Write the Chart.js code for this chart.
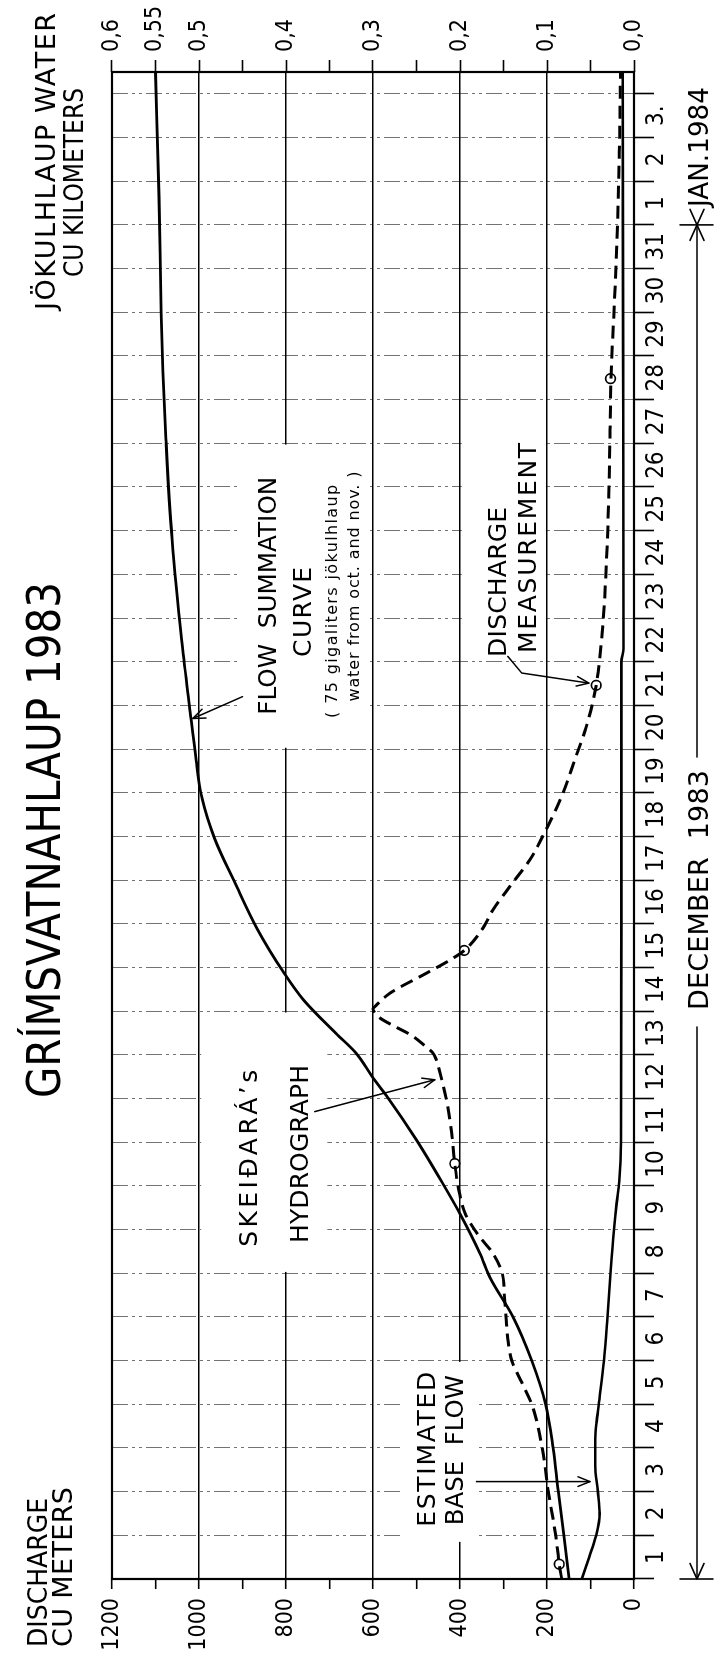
<!DOCTYPE html>
<html>
<head>
<meta charset="utf-8">
<script src="https://cdn.jsdelivr.net/npm/chart.js@4/dist/chart.umd.min.js"></script>
<style>
  html, body { margin: 0; padding: 0; background: #fff; overflow: hidden; width: 723px; height: 1672px; }
  /* the sheet is laid out landscape and turned a quarter turn counter-clockwise */
  #sheet { position: absolute; left: 0; top: 0; width: 1672px; height: 723px;
           transform-origin: 0 0; transform: translate(0px, 1672px) rotate(-90deg); background: #fff; }
</style>
</head>
<body>
<div id="sheet"><canvas id="hlaup" width="1672" height="723"></canvas></div>
<script>
// Time runs in days from 1 December 1983, 00:00.
const dayLabels = ['1','2','3','4','5','6','7','8','9','10','11','12','13','14','15','16','17','18','19','20',
                   '21','22','23','24','25','26','27','28','29','30','31','1','2','3.'];
const dischargeTickLabels = ['0','200','400','600','800','1000','1200'];
const volumeTickValues = [0, 0.1, 0.2, 0.3, 0.4, 0.5, 0.55, 0.6];
const volumeTickLabels = ['0,0','0,1','0,2','0,3','0,4','0,5','0,55','0,6'];

// Skeiðará hydrograph, m³/s
const hydroDays = [0, 0.34, 1, 2, 3, 4, 4.5, 5, 5.5, 6, 6.5, 7, 7.45, 7.9, 8.37, 8.97, 9.51, 10.2, 10.96, 11.7,
                   11.9, 12.05, 12.2, 12.45, 12.65, 12.85, 12.98, 13.05, 13.12, 13.41, 13.87, 14.17, 14.39, 14.86,
                   15.32, 15.86, 16.47, 17, 17.4, 18, 18.76, 19.5, 20.46, 21.8, 23.35, 24.8, 26.3, 27.48, 29, 31, 33, 34.5];
const hydroFlow = [166, 172, 180, 197, 211, 235, 258, 281, 290, 294, 298, 303, 324, 360, 388, 404, 412, 419, 431, 449,
                   455, 463, 480, 512, 550, 585, 597, 600, 594, 561, 477, 423, 390, 350,
                   324, 285, 239, 210, 190, 163, 136, 110, 87, 72, 63, 58, 55, 53, 46, 38, 33, 31];

// Flow summation curve, km³ (starts from 75 GL carried over from Oct./Nov.)
const sumDays = [0, 1, 2, 3, 4, 5, 6, 6.9, 7.45, 8.36, 9.06, 10.05, 11.05, 11.46, 12.05, 12.49, 13.26, 13.88,
                 14.88, 15.95, 16.95, 17.87, 18.85, 20, 21.5, 23.8, 26.1, 27.65, 29, 31.65, 34.5];
const sumVolume = [0.0745, 0.0805, 0.087, 0.093, 0.1015, 0.1175, 0.139, 0.1655, 0.177, 0.2, 0.22, 0.25, 0.284, 0.2995,
                   0.32, 0.3425, 0.38, 0.4025, 0.433, 0.459, 0.482, 0.4965, 0.504, 0.511, 0.52, 0.531, 0.538, 0.5415,
                   0.5435, 0.546, 0.55];

// Estimated base flow, m³/s
const baseDays = [0, 0.5, 1, 1.5, 2, 2.6, 3.2, 3.6, 4, 5, 6, 7, 8, 8.6, 9.1, 10, 15, 21, 21.3, 28, 34.5];
const baseFlow = [120, 103, 87, 79, 83, 89, 89, 86, 81, 69, 61, 54, 46, 40, 34, 30, 29, 29, 24, 25, 26];

// Discharge measurements, m³/s
const measDays = [0.34, 9.51, 14.39, 20.46, 27.48];
const measFlow = [172, 412, 390, 87, 54];

const LETTER = "'DejaVu Sans', 'Liberation Sans', sans-serif";
const NARROW = "'Liberation Sans Narrow', 'DejaVu Sans Condensed', 'Liberation Sans', sans-serif";

const toPoints = (xs, ys) => xs.map((x, i) => ({ x: x, y: ys[i] }));

// Draws a line of text stretched or squeezed to a given width.
function fitText(ctx, str, x, baseline, width, size, family, align) {
  ctx.save();
  ctx.font = size + 'px ' + family;
  ctx.textAlign = 'left';
  ctx.textBaseline = 'alphabetic';
  if ('letterSpacing' in ctx) ctx.letterSpacing = '0px';
  const w0 = ctx.measureText(str).width;
  const left = align === 'center' ? x - width / 2 : x;
  const n = Array.from(str).length;
  const sp = n > 1 ? (width - w0) / (n - 1) : 0;
  if (sp < 0 || !('letterSpacing' in ctx)) {
    ctx.translate(left, baseline);
    ctx.scale(width / w0, 1);
    ctx.fillText(str, 0, 0);
  } else {
    ctx.letterSpacing = sp.toFixed(2) + 'px';
    ctx.fillText(str, left, baseline);
  }
  ctx.restore();
}

function arrowHead(ctx, x1, y1, x2, y2, len, spread) {
  const a = Math.atan2(y2 - y1, x2 - x1);
  ctx.beginPath();
  ctx.moveTo(x2 - len * Math.cos(a - spread), y2 - len * Math.sin(a - spread));
  ctx.lineTo(x2, y2);
  ctx.lineTo(x2 - len * Math.cos(a + spread), y2 - len * Math.sin(a + spread));
  ctx.stroke();
}

function leader(ctx, pts) {
  ctx.beginPath();
  ctx.moveTo(pts[0][0], pts[0][1]);
  for (let i = 1; i < pts.length; i++) ctx.lineTo(pts[i][0], pts[i][1]);
  ctx.stroke();
  const a = pts[pts.length - 2], b = pts[pts.length - 1];
  arrowHead(ctx, a[0], a[1], b[0], b[1], 13, 0.38);
}

const sheetPlugin = {
  id: 'sheet',
  beforeDatasetsDraw(chart) {
    const { ctx, chartArea: ca, scales } = chart;
    const X = v => scales.x.getPixelForValue(v);
    const Q = v => scales.q.getPixelForValue(v);
    // white panels behind the labels inside the plot
    const panels = [[19.03, 25.97, 608, 905], [7.03, 12.97, 705, 995], [0.85, 4.97, 361, 531], [21.03, 26.97, 204, 396]];
    ctx.save();
    ctx.fillStyle = '#fff';
    panels.forEach(p => ctx.fillRect(X(p[0]), Q(p[3]), X(p[1]) - X(p[0]), Q(p[2]) - Q(p[3])));
    // frame
    ctx.strokeStyle = '#000';
    ctx.lineWidth = 2.2;
    ctx.strokeRect(ca.left, ca.top, ca.right - ca.left, ca.bottom - ca.top);
    ctx.restore();
  },
  afterDatasetsDraw(chart) {
    const { ctx, scales } = chart;
    const X = v => scales.x.getPixelForValue(v);
    const Q = v => scales.q.getPixelForValue(v);
    ctx.save();
    ctx.fillStyle = '#000';
    ctx.strokeStyle = '#000';
    ctx.lineCap = 'round';
    ctx.lineJoin = 'round';

    // in-plot labels
    fitText(ctx, 'FLOW  SUMMATION', X(22.51), Q(823), 238, 25, LETTER, 'center');
    fitText(ctx, 'CURVE', X(22.14), Q(743), 90, 25, LETTER, 'center');
    fitText(ctx, '( 75 gigaliters jökulhlaup', X(22.38), Q(683), 233, 16, LETTER, 'center');
    fitText(ctx, 'water from oct. and nov. )', X(22.72), Q(633), 230, 16, LETTER, 'center');
    fitText(ctx, 'SKEIÐARÁ\u2019s', X(9.63), Q(867), 177, 25, LETTER, 'center');
    fitText(ctx, 'HYDROGRAPH', X(9.73), Q(750), 178, 25, LETTER, 'center');
    fitText(ctx, 'ESTIMATED', X(2.97), Q(458), 155, 25, LETTER, 'center');
    fitText(ctx, 'BASE  FLOW', X(2.95), Q(393), 150, 25, LETTER, 'center');
    fitText(ctx, 'DISCHARGE', X(21.11), Q(295), 150, 25, LETTER, 'left');
    fitText(ctx, 'MEASUREMENT', X(21.2), Q(225), 210, 25, LETTER, 'left');

    // pointers
    ctx.lineWidth = 1.5;
    leader(ctx, [[X(20.2), Q(900)], [X(19.7), Q(1014)]]);
    leader(ctx, [[X(10.7), Q(734)], [X(11.43), Q(458)]]);
    leader(ctx, [[X(2.23), Q(362)], [X(2.23), Q(101)]]);
    leader(ctx, [[X(21.12), Q(290)], [X(20.74), Q(258)], [X(20.51), Q(104)]]);

    // headings above the plot
    fitText(ctx, 'GRÍMSVATNAHLAUP 1983', 832, 60, 516, 46, LETTER, 'center');
    fitText(ctx, 'DISCHARGE', 25, 47, 149, 27, LETTER, 'left');
    fitText(ctx, 'CU METERS', 25, 72, 160, 27, LETTER, 'left');
    fitText(ctx, 'JÖKULHLAUP WATER', 1362, 55, 297, 27, LETTER, 'left');
    fitText(ctx, 'CU KILOMETERS', 1395, 83, 189, 27, LETTER, 'left');

    // month span below the day axis
    const yLine = 697;
    const x0 = X(0), xJan = X(31);
    ctx.lineWidth = 1.6;
    ctx.beginPath();
    ctx.moveTo(x0, yLine); ctx.lineTo(645, yLine);
    ctx.moveTo(915, yLine); ctx.lineTo(xJan, yLine);
    ctx.moveTo(x0, yLine - 17); ctx.lineTo(x0, yLine + 16);
    ctx.moveTo(xJan, yLine - 17); ctx.lineTo(xJan, yLine + 16);
    ctx.stroke();
    arrowHead(ctx, x0 + 30, yLine, x0, yLine, 17, 0.42);
    arrowHead(ctx, xJan - 30, yLine, xJan, yLine, 17, 0.42);
    arrowHead(ctx, xJan + 30, yLine, xJan, yLine, 17, 0.42);
    fitText(ctx, 'DECEMBER  1983', 662, 708, 240, 27, LETTER, 'left');
    fitText(ctx, 'JAN.1984', 1465, 708, 120, 27, LETTER, 'left');
    ctx.restore();
  }
};

new Chart(document.getElementById('hlaup'), {
  type: 'line',
  data: {
    datasets: [
      { label: 'Flow summation curve', data: toPoints(sumDays, sumVolume), yAxisID: 'vol',
        borderColor: '#000', borderWidth: 2.8, pointRadius: 0, cubicInterpolationMode: 'monotone', fill: false },
      { label: 'Skeiðará hydrograph', data: toPoints(hydroDays, hydroFlow), yAxisID: 'q',
        borderColor: '#000', borderWidth: 3, borderDash: [13, 7], pointRadius: 0, cubicInterpolationMode: 'monotone', fill: false },
      { label: 'Estimated base flow', data: toPoints(baseDays, baseFlow), yAxisID: 'q',
        borderColor: '#000', borderWidth: 2.6, pointRadius: 0, cubicInterpolationMode: 'monotone', fill: false },
      { label: 'Discharge measurement', data: toPoints(measDays, measFlow), yAxisID: 'q', showLine: false,
        pointRadius: 4.8, pointBackgroundColor: '#fff', pointBorderColor: '#000', pointBorderWidth: 1.7 },
      { label: 'Discharge measurement centre', data: toPoints(measDays, measFlow), yAxisID: 'q', showLine: false,
        pointRadius: 1.3, pointBackgroundColor: '#000', pointBorderWidth: 0 }
    ]
  },
  options: {
    responsive: false,
    animation: false,
    devicePixelRatio: 1,
    layout: { padding: { top: 112, left: 0, right: 0, bottom: 0 } },
    plugins: { legend: { display: false }, tooltip: { enabled: false }, title: { display: false } },
    scales: {
      x: {
        type: 'linear', position: 'bottom', min: 0, max: 34.5,
        afterBuildTicks: s => { const t = []; for (let i = 0; i <= 69; i++) t.push({ value: i / 2 }); s.ticks = t; },
        afterFit: s => { s.height = 89; },
        grid: {
          color: c => (c.tick && Number.isInteger(c.tick.value) && c.tick.value > 0) ? 'rgba(0,0,0,0.55)' : 'rgba(0,0,0,0)',
          tickColor: c => (c.tick && Number.isInteger(c.tick.value)) ? '#000' : 'rgba(0,0,0,0)',
          lineWidth: 1, tickLength: 20, tickWidth: 1.6
        },
        border: { display: false, dash: [16, 4, 3, 4, 3, 4] },
        ticks: {
          autoSkip: false, maxRotation: 0, minRotation: 0, padding: -12, color: '#000',
          font: { family: NARROW, size: 24 },
          callback: v => Number.isInteger(v) ? '' : (dayLabels[Math.floor(v)] || '')
        }
      },
      q: {
        type: 'linear', position: 'left', min: 0, max: 1200,
        afterBuildTicks: s => { const t = []; for (let i = 0; i <= 12; i++) t.push({ value: i * 100 }); s.ticks = t; },
        afterFit: s => { s.width = 93; },
        grid: {
          color: c => (c.tick && c.tick.value % 200 === 0 && c.tick.value > 0 && c.tick.value < 1200) ? '#000' : 'rgba(0,0,0,0)',
          lineWidth: 1.4, tickColor: '#000', tickLength: 10, tickWidth: 1.6
        },
        border: { display: false },
        ticks: {
          autoSkip: false, padding: 9, color: '#000', font: { family: NARROW, size: 23 },
          callback: v => (v % 200 === 0) ? dischargeTickLabels[v / 200] : ''
        }
      },
      vol: {
        type: 'linear', position: 'right', min: 0, max: 0.6,
        afterBuildTicks: s => { const t = []; for (let i = 0; i <= 12; i++) t.push({ value: i * 0.05 }); s.ticks = t; },
        afterFit: s => { s.width = 72; },
        grid: { drawOnChartArea: false, tickColor: '#000', tickLength: 12, tickWidth: 1.6 },
        border: { display: false },
        ticks: {
          autoSkip: false, padding: 8, color: '#000', font: { family: NARROW, size: 23 },
          callback: v => { const k = volumeTickValues.findIndex(a => Math.abs(a - v) < 1e-6); return k < 0 ? '' : volumeTickLabels[k]; }
        }
      }
    }
  },
  plugins: [sheetPlugin]
});
</script>
</body>
</html>
